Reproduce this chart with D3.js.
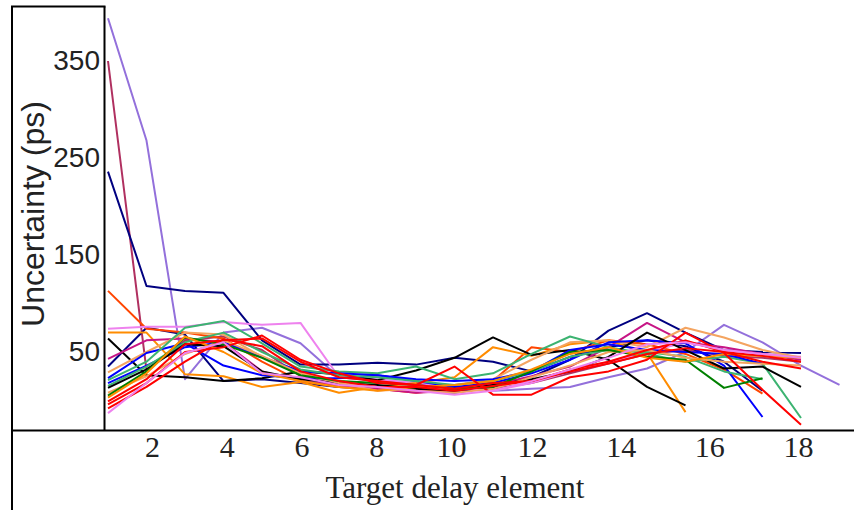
<!DOCTYPE html>
<html>
<head>
<meta charset="utf-8">
<script src="https://cdn.jsdelivr.net/npm/d3@7"></script>
<style>
  body { margin: 0; background: #fff; }
</style>
</head>
<body>
<div id="chart"></div>
<script>
// target delay element index for each measured point
const elements = [1, 2, 3, 4, 5, 6, 7, 8, 9, 10, 11, 12, 13, 14, 15, 16, 17, 18, 19, 20]

// uncertainty (ps) per chip
const lavender = [394, 268, 22, 70, 75, 59, 24, 20, 18, 14, 10, 12, 14, 24, 33, 50, 78, 60, 36, 16]
const maroon = [350, 31, 62, 66, 52, 25, 16, 14, 12, 10, 12, 18, 28, 38, 48, 52, 46, 44, 40]
const navyA = [236, 118, 113, 111, 62, 37, 37, 39, 37, 44, 40, 30, 45, 55, 62, 56, 40, 10]
const navyB = [35, 75, 68, 20, 22, 18, 14, 12, 10, 8, 14, 24, 42, 72, 90, 70, 52, 50, 49]
const orangeRed = [113, 74, 70, 64, 40, 20, 14, 12, 8, 12, 20, 55, 50, 62, 58, 48, 32, 7]
const violetA = [74, 76, 76, 81, 78, 80, 24, 22, 18, 14, 10, 18, 30, 40, 50, 60, 52, 48, 45]
const orangeA = [70, 70, 27, 25, 14, 19, 8, 14, 18, 24, 55, 46, 58, 62, 49, -12]
const blackA = [64, 26, 24, 20, 23, 30, 27, 21, 31, 44, 65, 47, 52, 42, 14, -5]
const magenta = [43, 62, 64, 60, 30, 20, 16, 12, 8, 10, 16, 25, 35, 55, 80, 60, 55, 48, 42]
const sandyA = [29, 50, 70, 68, 45, 30, 18, 10, 12, 16, 22, 42, 60, 62, 55, 75, 65, 52, 44]
const blueA = [23, 49, 59, 36, 26, 23, 23, 26, 20, 14, 18, 28, 42, 60, 62, 59, 36, -17]
const seaGreenA = [21, 40, 75, 82, 59, 35, 30, 28, 35, 22, 28, 48, 66, 55, 48, 40, 45, 38, -18]
const blueB = [18, 36, 55, 60, 45, 30, 28, 26, 22, 20, 22, 30, 52, 58, 52, 50, 48, 38]
const seaGreenB = [15, 35, 60, 70, 50, 32, 26, 24, 20, 16, 20, 30, 45, 52, 50, 45, 30, 22]
const blackB = [13, 32, 58, 56, 30, 22, 18, 16, 12, 10, 16, 22, 30, 45, 70, 52, 33, 35, 14]
const sandyB = [8, 25, 48, 62, 46, 28, 18, 14, 10, 8, 12, 24, 36, 50, 52, 44, 40, 38, 36]
const green = [5, 30, 65, 58, 44, 26, 20, 18, 16, 12, 14, 30, 50, 52, 45, 42, 13, 23]
const orangeB = [3, 28, 66, 50, 28, 20, 14, 10, 14, 16, 20, 32, 48, 55, 44, 40, 48, 46, 44]
const redA = [-1, 22, 58, 62, 64, 40, 24, 20, 16, 35, 6, 6, 24, 30, 42, 70, 49, 11, -25]
const redB = [-4, 18, 50, 55, 67, 42, 28, 18, 16, 12, 18, 20, 32, 40, 52, 62, 50, 40, 33]
const redC = [-8, 14, 40, 63, 56, 30, 20, 14, 14, 10, 15, 20, 30, 38, 48, 54, 50, 46, 40]
const violetB = [-13, 18, 49, 60, 28, 24, 16, 14, 10, 6, 10, 20, 32, 44, 58, 60, 52, 48, 44]

const seriesValues = [lavender, maroon, navyA, navyB, orangeRed, violetA, orangeA, blackA,
  magenta, sandyA, blueA, seaGreenA, blueB, seaGreenB, blackB, sandyB, green, orangeB,
  redA, redB, redC, violetB]
const seriesColors = ["#9370db", "#b03060", "#000080", "#000080", "#ff4500", "#ee82ee", "#ff8c00", "#000000",
  "#c71585", "#f4a460", "#0000ff", "#3cb371", "#0000ff", "#3cb371", "#000000", "#f4a460", "#008000", "#ff8c00",
  "#ff0000", "#ff0000", "#ff0000", "#ee82ee"]

const xTicks = [2, 4, 6, 8, 10, 12, 14, 16, 18]
const yTicks = [50, 150, 250, 350]

const W = 854
const H = 510

const svg = d3.select("#chart")
  .append("svg")
  .attr("width", W)
  .attr("height", H)

const x = d3.scaleLinear().domain([1, 20]).range([108, 839.5])
const y = d3.scaleLinear().domain([0, 350]).range([400.5, 61])
// the tick labels of the figure are not evenly spaced
const xLabelScale = d3.scaleLinear().domain([2, 10, 12, 18]).range([152, 451, 532, 798])

const line = d3.line()
  .x((d, i) => x(elements[i]))
  .y((d) => y(d))

svg.append("g")
  .selectAll("path")
  .data(seriesValues)
  .enter()
  .append("path")
  .attr("d", (d) => line(d))
  .attr("fill", "none")
  .attr("stroke", (d, i) => seriesColors[i])
  .attr("stroke-width", 2)
  .attr("stroke-linejoin", "round")

// frame around the plot and the y label box
const frame = svg.append("g").attr("stroke", "#000").attr("stroke-width", 2)
frame.append("line").attr("x1", 12).attr("x2", 12).attr("y1", 6.5).attr("y2", H)
frame.append("line").attr("x1", 11).attr("x2", 105.5).attr("y1", 6.5).attr("y2", 6.5)
frame.append("line").attr("x1", 104.5).attr("x2", 104.5).attr("y1", 6.5).attr("y2", 430.5)
frame.append("line").attr("x1", 11).attr("x2", W).attr("y1", 430.5).attr("y2", 430.5)

const yAxis = svg.append("g")
  .attr("transform", "translate(104,0)")
  .call(d3.axisLeft(y).tickValues(yTicks).tickSize(0).tickPadding(4))
yAxis.select(".domain").remove()
yAxis.selectAll("text")
  .attr("font-family", "'Liberation Sans', Arial, sans-serif")
  .attr("font-size", "28px")
  .attr("fill", "#222")

const xAxis = svg.append("g")
  .attr("transform", "translate(0,430)")
  .call(d3.axisBottom(xLabelScale).tickValues(xTicks).tickSize(0).tickPadding(6))
xAxis.select(".domain").remove()
xAxis.selectAll("text")
  .attr("font-family", "'Liberation Serif', 'Times New Roman', serif")
  .attr("font-size", "30px")
  .attr("fill", "#222")

svg.append("text")
  .attr("x", 455)
  .attr("y", 498)
  .attr("text-anchor", "middle")
  .attr("font-family", "'Liberation Serif', 'Times New Roman', serif")
  .attr("font-size", "31px")
  .attr("fill", "#222")
  .text("Target delay element")

svg.append("text")
  .attr("transform", "translate(44,214) rotate(-90)")
  .attr("text-anchor", "middle")
  .attr("font-family", "'Liberation Sans', Arial, sans-serif")
  .attr("font-size", "32px")
  .attr("fill", "#222")
  .text("Uncertainty (ps)")
</script>
</body>
</html>
